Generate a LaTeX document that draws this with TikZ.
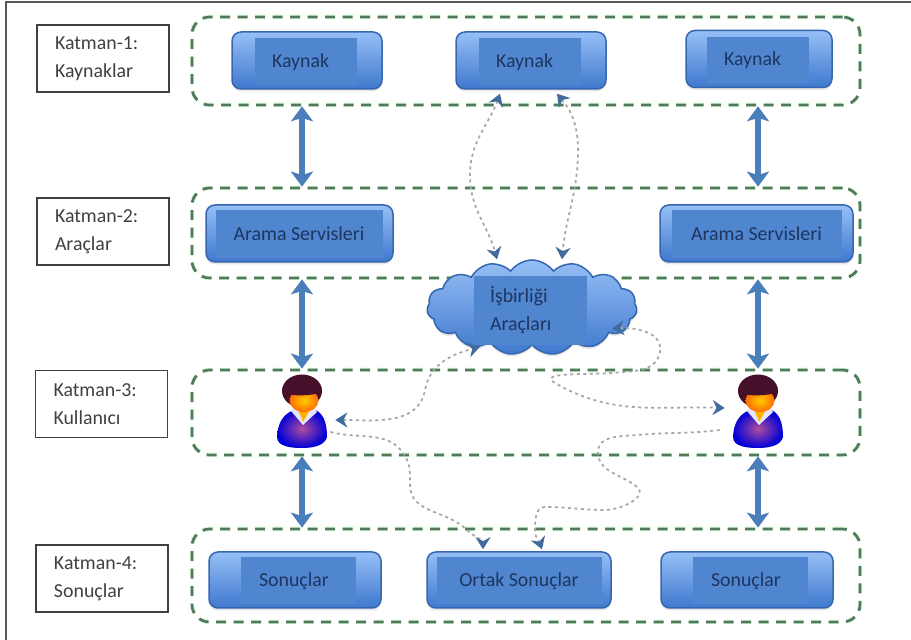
\documentclass[tikz,border=0pt]{standalone}
\usepackage{fontspec}
\setmainfont{Carlito}
\usetikzlibrary{shapes.symbols,shadows,arrows.meta}
\definecolor{okmavi}{HTML}{4A7EBB}
\definecolor{icmavi}{HTML}{4F86CF}
\definecolor{ustmavi}{HTML}{96BFF6}
\definecolor{altmavi}{HTML}{3F78CE}
\definecolor{yazimavi}{HTML}{1F3560}
\definecolor{sinir}{HTML}{55775F}
\definecolor{sac}{HTML}{46102A}
\tikzset{
  katman/.style={draw=sinir, line width=.055cm, dash pattern=on .2cm off .15cm, rounded corners=.35cm, preaction={draw=green!15, line width=.09cm}},
  etiket/.style={draw=black!75, line width=.035cm, align=left, text width=1.92cm, minimum width=2.64cm, minimum height=1.34cm, text=black!75, font=\fontsize{11.3}{15.9}\selectfont},
  blok/.style={rectangle, rounded corners=.18cm, draw=altmavi!85!black, line width=.03cm, top color=ustmavi, bottom color=altmavi, drop shadow={shadow xshift=0cm, shadow yshift=-.05cm, fill=black!20}},
  ic/.style={fill=icmavi, text=yazimavi, font=\fontsize{11.3}{14}\selectfont},
  kalin/.style={okmavi, line width=.11cm, {Stealth[length=.3cm,width=.44cm,inset=.07cm]}-{Stealth[length=.3cm,width=.44cm,inset=.07cm]}},
  ince/.style={black!35, line width=.035cm, dash pattern=on .06cm off .07cm},
  ucu/.style={-{Stealth[length=.24cm,width=.3cm,color=okmavi!85!black]}},
  ikiuc/.style={{Stealth[length=.24cm,width=.3cm,color=okmavi!85!black]}-{Stealth[length=.24cm,width=.3cm,color=okmavi!85!black]}},
  kisi/.pic={
    \shade[inner color=blue!45!red!70!white, outer color=blue!85!black] (-.5,-.5) .. controls (-.48,-.12) and (-.3,-.02) .. (-.15,.05) -- (.25,.05) .. controls (.42,-.02) and (.5,-.2) .. (.5,-.5) .. controls (.45,-.7) and (.15,-.72) .. (0,-.72) .. controls (-.2,-.72) and (-.5,-.7) .. (-.5,-.5) -- cycle;
    \fill[white!90!blue] (-.22,.02) -- (.02,-.26) -- (.3,.0) -- (.22,.12) -- (-.14,.12) -- cycle;
    \fill[orange!60!yellow] (-.1,.1) -- (.02,-.2) -- (.18,.08) -- cycle;
    \fill[sac] (0,.42) ellipse (.4 and .33);
    \shade[inner color=yellow!60!orange, outer color=orange!85!red] (.04,.23) ellipse (.29 and .23);
    \fill[sac] (-.4,.4) arc (180:0:.4 and .33) .. controls (.2,.32) and (-.2,.3) .. (-.4,.4) -- cycle;
  }
}
\begin{document}
\begin{tikzpicture}
  \useasboundingbox[fill=white] (0,0) rectangle (18.22,12.8);
  \draw[black!65, line width=.04cm] (.12,-.1) -- (.12,12.76) -- (18.3,12.76);
  % katmanlar
  \node[katman, minimum width=13.36cm, minimum height=1.76cm] (katman1) at (10.52,11.58) {};
  \node[katman, minimum width=13.36cm, minimum height=1.8cm] (katman2) at (10.52,8.14) {};
  \node[katman, minimum width=13.36cm, minimum height=1.7cm] (katman3) at (10.52,4.55) {};
  \node[katman, minimum width=13.36cm, minimum height=1.86cm] (katman4) at (10.52,1.29) {};
  \node[etiket] (etiket1) at (2.06,11.63) {Katman-1:\\Kaynaklar};
  \node[etiket] (etiket2) at (2.06,8.17) {Katman-2:\\Araçlar};
  \node[etiket] (etiket3) at (2.03,4.72) {Katman-3:\\Kullanıcı};
  \node[etiket] (etiket4) at (2.04,1.23) {Katman-4:\\Sonuçlar};
  % kutular
  \node[blok, minimum width=3cm, minimum height=1.14cm] (kaynak1) at (6.14,11.59) {};
  \node[ic, text width=1.36cm, minimum width=2.04cm, minimum height=.94cm] (kaynak1y) at (6.12,11.56) {Kaynak};
  \node[blok, minimum width=3cm, minimum height=1.14cm] (kaynak2) at (10.62,11.59) {};
  \node[ic, text width=1.36cm, minimum width=2.04cm, minimum height=.94cm] (kaynak2y) at (10.6,11.56) {Kaynak};
  \node[blok, minimum width=2.92cm, minimum height=1.14cm] (kaynak3) at (15.18,11.62) {};
  \node[ic, text width=1.36cm, minimum width=2.04cm, minimum height=.94cm] (kaynak3y) at (15.16,11.59) {Kaynak};
  \node[blok, minimum width=3.74cm, minimum height=1.14cm] (arama1) at (5.99,8.13) {};
  \node[ic, minimum width=3.34cm, minimum height=.96cm] (arama1y) at (5.98,8.12) {Arama Servisleri};
  \node[blok, minimum width=3.86cm, minimum height=1.14cm] (arama2) at (15.13,8.13) {};
  \node[ic, minimum width=3.4cm, minimum height=.96cm] (arama2y) at (15.13,8.12) {Arama Servisleri};
  \node[blok, minimum width=3.44cm, minimum height=1.12cm] (sonuc1) at (5.9,1.2) {};
  \node[ic, text width=1.56cm, minimum width=2.3cm, minimum height=.94cm] (sonuc1y) at (5.96,1.18) {Sonuçlar};
  \node[blok, minimum width=3.68cm, minimum height=1.12cm] (sonuc2) at (10.38,1.2) {};
  \node[ic, minimum width=3.3cm, minimum height=.94cm] (sonuc2y) at (10.38,1.18) {Ortak Sonuçlar};
  \node[blok, minimum width=3.44cm, minimum height=1.12cm] (sonuc3) at (14.94,1.2) {};
  \node[ic, text width=1.56cm, minimum width=2.3cm, minimum height=.94cm] (sonuc3y) at (15,1.18) {Sonuçlar};
  % bulut
  \node[cloud, cloud puffs=15, cloud puff arc=110, aspect=2.2, draw=altmavi!85!black, line width=.03cm, top color=ustmavi, bottom color=altmavi, minimum width=4.2cm, minimum height=1.9cm, inner sep=0pt, drop shadow={shadow xshift=0cm, shadow yshift=-.05cm, fill=black!20}] (bulut) at (10.64,6.65) {};
  \node[ic, align=left, text width=1.62cm, minimum width=2.26cm, minimum height=1.38cm, font=\fontsize{11.3}{15.9}\selectfont] (buluty) at (10.61,6.59) {İşbirliği\\Araçları};
  % kullanicilar
  \node[minimum width=1cm, minimum height=1.46cm] (user1) at (6.04,4.56) {};
  \pic at (user1) {kisi};
  \node[minimum width=1cm, minimum height=1.46cm] (user2) at (15.16,4.56) {};
  \pic at (user2) {kisi};
  % kalin oklar
  \draw[kalin] (katman1.south -| user1) -- (katman2.north -| user1);
  \draw[kalin] (katman1.south -| user2) -- (katman2.north -| user2);
  \draw[kalin] (katman2.south -| user1) -- (katman3.north -| user1);
  \draw[kalin] (katman2.south -| user2) -- (katman3.north -| user2);
  \draw[kalin] (katman3.south -| user1) -- (katman4.north -| user1);
  \draw[kalin] (katman3.south -| user2) -- (katman4.north -| user2);
  % ince oklar
  \draw[ince, ikiuc] ([xshift=-.62cm,yshift=-.08cm]kaynak2.south) to[out=250, in=90] (9.4,9.3) to[out=-90, in=105] ([xshift=-.7cm]bulut.north);
  \draw[ince, ikiuc] ([xshift=.52cm,yshift=-.08cm]kaynak2.south) to[out=-50, in=90] (11.56,9.8) to[out=-90, in=85] ([xshift=.6cm]bulut.north);
  \draw[ince, ikiuc] ([xshift=.16cm,yshift=-.16cm]user1.east) to[out=0, in=-100] (8.5,5) to[out=80, in=195] ([xshift=-1.04cm,yshift=-.02cm]bulut.south);
  \draw[ince, ikiuc] ([xshift=1.6cm,yshift=.34cm]bulut.south) to[out=5, in=80] (13.2,5.76) to[out=-100, in=5] (12.2,5.34) to[out=185, in=150] (11.1,5.14) to[out=-30, in=178] ([xshift=-.16cm,yshift=.08cm]user2.west);
  \draw[ince, ucu] ([xshift=.06cm,yshift=-.4cm]user1.east) to[out=-15, in=120] (8.1,3.68) to[out=-60, in=90] (8.2,3.1) to[out=-90, in=135] (9.34,2.2) to[out=-45, in=90] ([xshift=-.72cm,yshift=.04cm]sonuc2.north);
  \draw[ince, ucu] ([xshift=-.26cm,yshift=-.36cm]user2.west) to[out=187, in=5] (12.74,4.1) to[out=185, in=90] (11.96,3.76) to[out=-90, in=140] (12.74,3.06) to[out=-40, in=0] (12.1,2.6) to[out=180, in=0] (10.9,2.66) to[out=180, in=90] (10.7,2.2) to[out=-90, in=110] ([xshift=.46cm,yshift=.04cm]sonuc2.north);
\end{tikzpicture}
\end{document}
